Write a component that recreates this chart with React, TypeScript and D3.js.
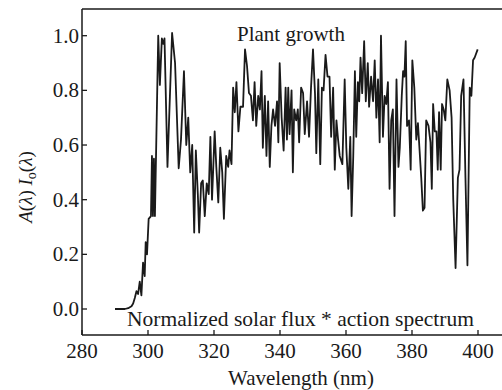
import React from "react";
import * as d3 from "d3";

const wavelengths = [
  290, 291, 292, 293, 294, 295, 295.5, 296, 296.5, 297, 297.5, 298, 298.5, 299, 299.3, 299.7, 300.2, 300.9,
  301.2, 301.5, 301.8, 302.1, 303.1, 303.6, 304.2, 304.6, 305.0, 305.9, 307.3, 308.2, 309.3, 310.0, 310.9,
  311.6, 312.2, 312.8, 313.4, 314.0, 314.5, 315.1, 315.5, 316.1, 316.6, 317.2, 317.8, 318.4, 318.9, 319.4,
  320.2, 320.7, 321.3, 321.9, 322.5, 323.0, 323.7, 324.3, 324.7, 325.3, 325.8, 326.3, 326.8, 327.4, 328.0,
  328.8, 329.4, 330.0, 330.6, 331.2, 331.8, 332.3, 332.8, 333.4, 333.9, 334.4, 334.8, 335.4, 335.9, 336.4,
  336.9, 337.4, 337.9, 338.5, 339.1, 339.5, 339.9, 340.5, 341.1, 341.7, 342.1, 342.5, 342.9, 343.5, 343.9,
  344.3, 344.9, 345.4, 345.8, 346.4, 347.0, 347.5, 348.2, 348.8, 349.4, 350.0, 350.6, 351.0, 351.6, 352.2,
  352.7, 353.2, 353.8, 354.4, 355.0, 355.5, 356.1, 356.6, 357.1, 357.6, 358.1, 358.9, 359.6, 360.1, 360.7,
  361.3, 361.7, 362.2, 362.7, 363.1, 363.6, 364.0, 364.4, 364.9, 365.5, 366.0, 366.6, 367.0, 367.6, 368.2,
  368.7, 369.2, 369.7, 370.2, 370.6, 371.2, 371.7, 372.2, 372.7, 373.2, 373.7, 374.2, 374.7, 375.3, 375.9,
  376.3, 376.9, 377.3, 377.7, 378.1, 378.5, 379.1, 379.6, 380.1, 380.7, 381.3, 381.8, 382.3, 382.8, 383.3,
  383.8, 384.3, 385.0, 385.6, 386.0, 386.4, 386.9, 387.4, 387.8, 388.2, 388.7, 389.1, 389.6, 390.1, 390.7,
  391.4, 392.0, 392.5, 393.2, 393.9, 394.4, 394.9, 395.6, 396.2, 396.8, 397.5, 398.0, 398.5, 399.0, 399.9,
];

const values = [
  0, 0, 0, 0, 0.003, 0.01, 0.02, 0.04, 0.065, 0.055, 0.1, 0.05, 0.17, 0.12, 0.245, 0.2, 0.33, 0.34,
  0.56, 0.34, 0.55, 0.34, 1.0, 0.82, 0.99, 0.97, 0.99, 0.52, 1.01, 0.9, 0.515, 0.62, 0.87,
  0.6, 0.7, 0.5, 0.6, 0.28, 0.58, 0.42, 0.28, 0.46, 0.47, 0.34, 0.46, 0.42, 0.63, 0.4,
  0.65, 0.52, 0.39, 0.59, 0.5, 0.33, 0.56, 0.52, 0.58, 0.53, 0.81, 0.72, 0.83, 0.65, 0.74,
  0.74, 0.95, 0.89, 0.79, 0.78, 0.69, 0.83, 0.67, 0.78, 0.73, 0.87, 0.59, 0.78, 0.56, 0.76,
  0.52, 0.67, 0.73, 0.67, 0.76, 0.61, 0.9, 0.7, 0.58, 0.81, 0.62, 0.81, 0.64, 0.8, 0.5,
  0.73, 0.69, 0.73, 0.61, 0.81, 0.79, 0.64, 0.76, 0.63, 0.81, 0.95, 0.79, 0.57, 0.84, 0.53,
  0.81, 0.8, 0.93, 0.85, 0.85, 0.63, 0.81, 0.51, 0.69, 0.62, 0.56, 0.53, 0.84, 0.59, 0.44,
  0.63, 0.34, 0.56, 0.87, 0.63, 0.83, 0.76, 0.92, 0.79, 0.98, 0.76, 0.9, 0.74, 0.85, 0.76,
  0.91, 0.7, 0.84, 0.61, 1.0, 0.63, 0.78, 0.75, 0.83, 0.44, 0.69, 0.73, 0.34, 0.84, 0.52,
  0.59, 0.78, 0.87, 0.85, 0.98, 0.67, 0.69, 0.51, 0.91, 0.81, 0.62, 0.68, 0.58, 0.48, 0.36,
  0.37, 0.69, 0.67, 0.61, 0.44, 0.75, 0.65, 0.65, 0.51, 0.72, 0.51, 0.75, 0.73, 0.69, 0.84,
  0.8, 0.7, 0.4, 0.15, 0.48, 0.51, 0.78, 0.84, 0.48, 0.16, 0.81, 0.78, 0.91, 0.92, 0.95,
];

const xTicks = [280, 300, 320, 340, 360, 380, 400];
const yTicks = [0, 0.2, 0.4, 0.6, 0.8, 1.0];

const FONT = "'Liberation Serif', 'Times New Roman', serif";

export default function App() {
  const W = 502;
  const H = 390;
  const left = 82;
  const top = 9;
  const bottom = 335;
  const right = 502;

  const x = d3.scaleLinear().domain([280, 400]).range([82, 478]);
  const y = d3.scaleLinear().domain([0, 1]).range([309, 35.7]);

  const pts = wavelengths.map((w, i) => [w, values[i]] as [number, number]);
  const line = d3
    .line<[number, number]>()
    .x((d) => x(d[0]))
    .y((d) => y(d[1]));

  const color = "#1a1a1a";

  return (
    <svg
      width={W}
      height={H}
      style={{ position: "absolute", left: 0, top: 0, background: "#fff" }}
      fontFamily={FONT}
    >
      <rect x={0} y={0} width={W} height={H} fill="#fff" />
      <line x1={left} y1={top} x2={right} y2={top} stroke={color} strokeWidth={1.5} />
      <line x1={left} y1={top} x2={left} y2={bottom} stroke={color} strokeWidth={1.5} />
      <line x1={left} y1={bottom} x2={right} y2={bottom} stroke={color} strokeWidth={1.5} />

      {xTicks.map((t) => (
        <g key={"x" + t}>
          <line x1={x(t)} x2={x(t)} y1={bottom} y2={bottom - 5} stroke={color} strokeWidth={1.3} />
          <text x={x(t)} y={358} textAnchor="middle" fontSize={21} fill={color}>
            {t}
          </text>
        </g>
      ))}
      {yTicks.map((t) => (
        <g key={"y" + t}>
          <line x1={left} x2={left + 5} y1={y(t)} y2={y(t)} stroke={color} strokeWidth={1.3} />
          <text x={79} y={y(t) + 7} textAnchor="end" fontSize={21} fill={color}>
            {t.toFixed(1)}
          </text>
        </g>
      ))}

      <path d={line(pts) || ""} fill="none" stroke={color} strokeWidth={1.8} strokeLinejoin="round" />

      <text x={291} y={41} textAnchor="middle" fontSize={21} fill={color}>
        Plant growth
      </text>
      <text x={300.5} y={326} textAnchor="middle" fontSize={21.5} fill={color}>
        Normalized solar flux * action spectrum
      </text>
      <text x={301} y={385} textAnchor="middle" fontSize={21} fill={color}>
        Wavelength (nm)
      </text>
      <text
        transform="translate(32,187) rotate(-90)"
        textAnchor="middle"
        fontSize={19}
        fill={color}
      >
        <tspan fontStyle="italic">A</tspan>
        <tspan>(</tspan>
        <tspan fontStyle="italic">λ</tspan>
        <tspan>) </tspan>
        <tspan fontStyle="italic">I</tspan>
        <tspan fontSize={14} dy={4}>o</tspan>
        <tspan dy={-4}>(</tspan>
        <tspan fontStyle="italic">λ</tspan>
        <tspan>)</tspan>
      </text>
    </svg>
  );
}
